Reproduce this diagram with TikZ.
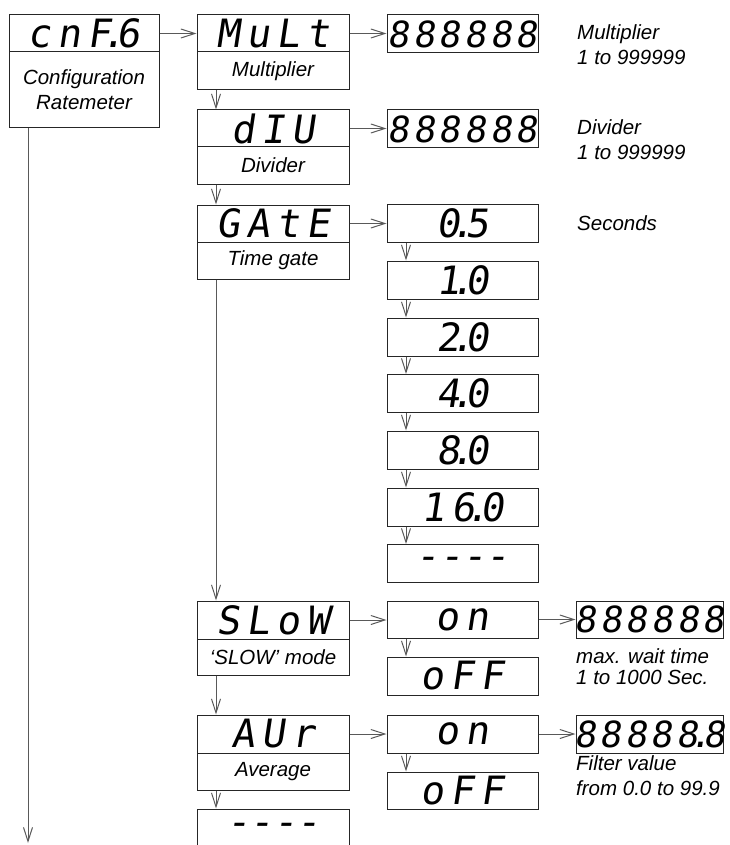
\documentclass[tikz,border=0pt]{standalone}
\usepackage{fontspec}
\setmainfont{Liberation Sans}
\newfontfamily\segfont[FakeSlant=0.15,LetterSpace=17]{DejaVu Sans Mono}
\newfontfamily\digfont[FakeSlant=0.15,LetterSpace=11]{DejaVu Sans Mono}
\usetikzlibrary{arrows.meta}
\newcommand\segpt{\kern-0.24em.\kern-0.22em}
\newcommand\seg[1]{\makebox[0pt]{#1}}
\begin{document}
\begin{tikzpicture}[x=1pt,y=-1pt,
  box/.style={draw=black!85,line width=1pt,rectangle,inner sep=0pt,minimum width=152pt},
  segtop/.style={box,minimum height=37pt,font=\segfont\fontsize{39}{39}\selectfont},
  subbox/.style={box,minimum width=151pt,minimum height=37pt,font=\segfont\fontsize{39}{39}\selectfont},
  digbox/.style={box,minimum width=151pt,minimum height=38pt,font=\digfont\fontsize{36}{36}\selectfont},
  lblbox/.style={box,minimum height=37pt,align=center,font=\itshape\fontsize{20.5}{25}\selectfont},
  note/.style={anchor=west,inner sep=0pt,align=left,font=\itshape\fontsize{20.5}{25}\selectfont},
  conn/.style={draw=black!65,line width=1pt,-{Straight Barb[length=14pt,width=9pt]}},
]
\useasboundingbox (0,0) rectangle (730,845);
\coordinate (vx) at (216,0);
\coordinate (sx) at (406,0);
\coordinate (lx) at (28,843);

% configuration box
\node[segtop,minimum width=150pt] (cnf) at (84,33.5) {\seg{cnF\segpt6}};
\node[lblbox,minimum width=150pt,minimum height=76pt] (cnfl) at (84,90) {Configuration\\Ratemeter};

% multiplier
\node[segtop] (mult) at (273,33.5) {\seg{MuLt}};
\node[lblbox,minimum height=38pt] (multl) at (273,71) {Multiplier};
\node[digbox] (m888) at (462.5,34) {\seg{888888}};
\node[note] (mnote) at (577,44.5) {Multiplier\\1 to 999999};

% divider
\node[segtop] (div) at (273,128.5) {\seg{dIU}};
\node[lblbox] (divl) at (273,165.5) {Divider};
\node[digbox] (d888) at (462.5,129) {\seg{888888}};
\node[note] (dnote) at (577,139.5) {Divider\\1 to 999999};

% time gate
\node[segtop] (gate) at (273,223.5) {\seg{GAtE}};
\node[lblbox] (gatel) at (273,260.5) {Time gate};
\node[subbox,minimum height=38pt] (g1) at (462.5,223.5) {\seg{0\segpt5}};
\node[subbox,minimum height=38pt] (g2) at (462.5,280) {\seg{1\segpt0}};
\node[subbox,minimum height=38pt] (g3) at (462.5,337) {\seg{2\segpt0}};
\node[subbox,minimum height=38pt] (g4) at (462.5,393.5) {\seg{4\segpt0}};
\node[subbox,minimum height=38pt] (g5) at (462.5,450) {\seg{8\segpt0}};
\node[subbox,minimum height=38pt] (g6) at (462.5,507) {\seg{16\segpt0}};
\node[subbox,minimum height=38pt] (g7) at (462.5,563.5) {\seg{-\kern0pt-\kern0pt-\kern0pt-}};
\node[note] (gnote) at (577,223) {Seconds};

% slow mode
\node[segtop,minimum height=38pt] (slow) at (273,620) {\seg{SLoW}};
\node[lblbox,minimum height=36pt] (slowl) at (273,657) {‘SLOW’ mode};
\node[subbox] (son) at (462.5,619.5) {\seg{on}};
\node[subbox,minimum height=38pt] (soff) at (462.5,676) {\seg{oFF}};
\node[digbox,minimum width=147pt,minimum height=37pt] (s888) at (649.5,619.5) {\seg{888888}};
\node[note,font=\itshape\fontsize{20.5}{21}\selectfont] (snote) at (576,667) {max. wait time\\1 to 1000 Sec.};

% average
\node[segtop,minimum height=38pt] (aur) at (273,734) {\seg{AUr}};
\node[lblbox] (aurl) at (273,771.5) {Average};
\node[subbox,minimum height=38pt] (aon) at (462.5,734) {\seg{on}};
\node[subbox] (aoff) at (462.5,790.5) {\seg{oFF}};
\node[digbox,minimum width=147pt] (a888) at (649.5,734) {\seg{88888\segpt8}};
\node[note] (anote) at (576,776) {Filter value\\from 0.0 to 99.9};

% end
\node[segtop,minimum height=40pt] (endbox) at (273,829) {\seg{-\kern0pt-\kern0pt-\kern0pt-}};

% connectors
\draw[conn] (cnf.east) -- (mult.west);
\draw[conn] (mult.east) -- (mult.east -| m888.west);
\draw[conn] (multl.south -| vx) -- (div.north -| vx);
\draw[conn] (div.east) -- (div.east -| d888.west);
\draw[conn] (divl.south -| vx) -- (gate.north -| vx);
\draw[conn] (gate.east) -- (gate.east -| g1.west);
\draw[conn] (g1.south -| sx) -- (g2.north -| sx);
\draw[conn] (g2.south -| sx) -- (g3.north -| sx);
\draw[conn] (g3.south -| sx) -- (g4.north -| sx);
\draw[conn] (g4.south -| sx) -- (g5.north -| sx);
\draw[conn] (g5.south -| sx) -- (g6.north -| sx);
\draw[conn] (g6.south -| sx) -- (g7.north -| sx);
\draw[conn] (gatel.south -| vx) -- (slow.north -| vx);
\draw[conn] (slow.east) -- (slow.east -| son.west);
\draw[conn] (son.east) -- (son.east -| s888.west);
\draw[conn] (son.south -| sx) -- (soff.north -| sx);
\draw[conn] (slowl.south -| vx) -- (aur.north -| vx);
\draw[conn] (aur.east) -- (aur.east -| aon.west);
\draw[conn] (aon.east) -- (aon.east -| a888.west);
\draw[conn] (aon.south -| sx) -- (aoff.north -| sx);
\draw[conn] (aurl.south -| vx) -- (endbox.north -| vx);
\draw[conn] (cnfl.south -| lx) -- (lx);
\end{tikzpicture}
\end{document}
